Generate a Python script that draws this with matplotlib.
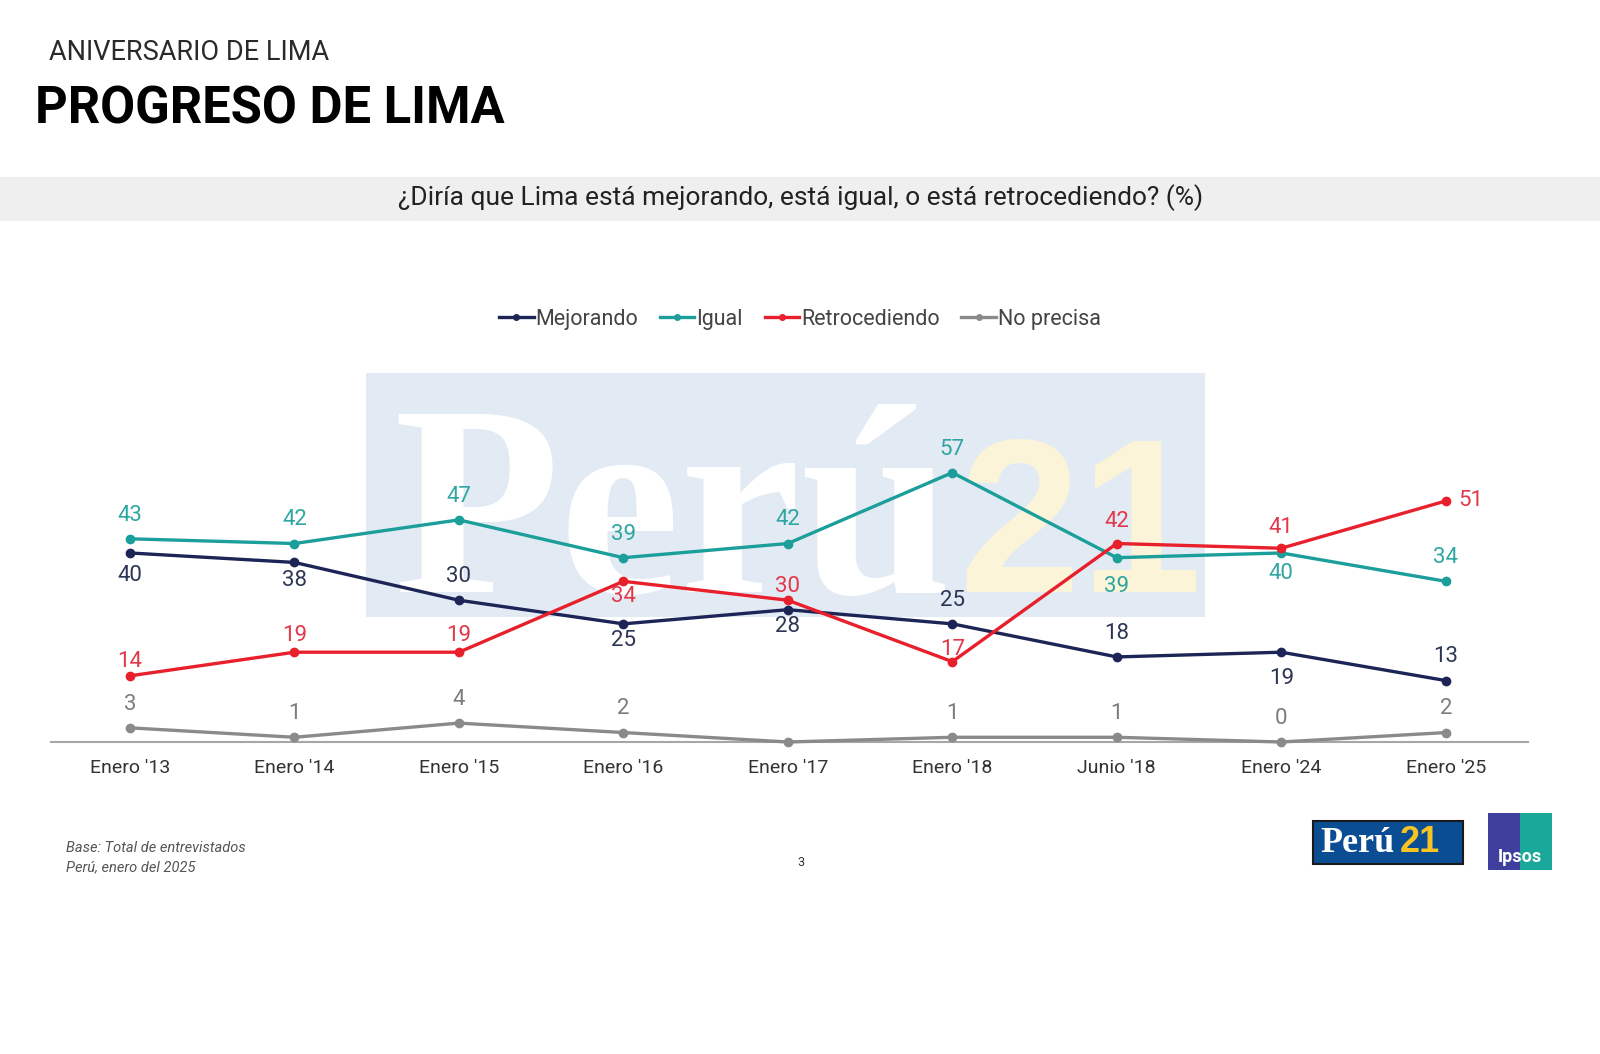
import matplotlib.pyplot as plt
from matplotlib.patches import Rectangle
from matplotlib.lines import Line2D

plt.rcParams['font.family'] = ['Roboto', 'DejaVu Sans']

periods = ["Enero '13", "Enero '14", "Enero '15", "Enero '16", "Enero '17",
           "Enero '18", "Junio '18", "Enero '24", "Enero '25"]
mejorando = [40, 38, 30, 25, 28, 25, 18, 19, 13]
igual = [43, 42, 47, 39, 42, 57, 39, 40, 34]
retrocediendo = [14, 19, 19, 34, 30, 17, 42, 41, 51]
no_precisa = [3, 1, 4, 2, 0, 1, 1, 0, 2]
no_precisa_shown = [True, True, True, True, False, True, True, True, True]

# label offsets (points), + above / - below
mej_off = [-16, -13, 17, -12, -12, 17, 17, -19, 17]
igu_off = [17, 17, 17, 17, 17, 17, -21, -15, 17]
ret_off = [10, 12, 12, -11, 10, 9, 16, 15, 0]
nop_off = [17, 17, 17, 17, 17, 17, 17, 17, 17]

c_mej, c_igu, c_ret, c_nop = '#1c2556', '#1c9f9b', '#e8202c', '#8a8a8a'
t_mej, t_igu, t_ret, t_nop = '#2c3654', '#2ea6a1', '#e2394a', '#7d7d7d'

fig = plt.figure(figsize=(16, 10.54), dpi=100)

# header
fig.text(49 / 1600, 1 - 53 / 1054, 'ANIVERSARIO DE LIMA', fontsize=19.5,
         color='#2a2a2a', va='center')
fig.text(35 / 1600, 1 - 109 / 1054, 'PROGRESO DE LIMA', fontsize=36.5,
         fontweight='bold', color='#000000', va='center')
fig.patches.append(Rectangle((0, 1 - 221 / 1054), 1, 44 / 1054, transform=fig.transFigure,
                             facecolor='#efefef', edgecolor='none', zorder=0))
fig.text(801 / 1600, 1 - 198 / 1054,
         '¿Diría que Lima está mejorando, está igual, o está retrocediendo? (%)',
         fontsize=19, color='#222222', ha='center', va='center')

# watermark (under the axes)
fig.patches.append(Rectangle((366 / 1600, 1 - 617 / 1054), 839 / 1600, 244 / 1054,
                             transform=fig.transFigure, facecolor='#e2eaf4',
                             edgecolor='none', zorder=0))
fig.text(393 / 1600, 1 - 592 / 1054, 'Perú', fontsize=196, fontweight='bold',
         family=['Liberation Serif', 'DejaVu Serif'], color='white', zorder=1)
fig.text(958 / 1600, 1 - 592 / 1054, '21', fontsize=158, fontweight='bold',
         family=['Liberation Sans', 'DejaVu Sans'], color='#fbf4d8', zorder=1)

ax = fig.add_axes([51 / 1600, 1 - 742 / 1054, 1477 / 1600, 293 / 1054])
ax.set_zorder(5)
ax.set_facecolor('none')
x = list(range(len(periods)))

series = [
    ('Mejorando', mejorando, c_mej, t_mej, mej_off),
    ('Igual', igual, c_igu, t_igu, igu_off),
    ('Retrocediendo', retrocediendo, c_ret, t_ret, ret_off),
    ('No precisa', no_precisa, c_nop, t_nop, nop_off),
]
for name, vals, col, tcol, offs in series:
    ax.plot(x, vals, color=col, lw=2.4, marker='o', ms=6, clip_on=False, zorder=3)
    for i, v in enumerate(vals):
        if name == 'No precisa' and not no_precisa_shown[i]:
            continue
        dx = 18 if (name == 'Retrocediendo' and i == len(vals) - 1) else 0
        ax.annotate(str(v), (i, v), xytext=(dx, offs[i]), textcoords='offset points',
                    ha='center', va='center', fontsize=16, color=tcol, zorder=4)

ax.set_xlim(-0.48, 8.5)
ax.set_ylim(0, 62)
ax.set_xticks(x)
ax.set_xticklabels(periods, fontsize=14, color='#333333')
ax.tick_params(axis='x', length=0, pad=12)
ax.set_yticks([])
for s in ['top', 'left', 'right']:
    ax.spines[s].set_visible(False)
ax.spines['bottom'].set_color('#a6a6a6')
ax.spines['bottom'].set_linewidth(1.5)

handles = [Line2D([0], [0], color=c, lw=2.4, marker='o', ms=4) for c in (c_mej, c_igu, c_ret, c_nop)]
fig.legend(handles, [s[0] for s in series], loc='center', bbox_to_anchor=(800 / 1600, 1 - 319 / 1054),
           ncol=4, frameon=False, fontsize=15.5, handlelength=1.6, handletextpad=0.1,
           columnspacing=1.0, labelcolor='#444444')

# footer
fig.text(66 / 1600, 1 - 848 / 1054, 'Base: Total de entrevistados', fontsize=10.5,
         style='italic', color='#555555', va='center')
fig.text(66 / 1600, 1 - 867 / 1054, 'Perú, enero del 2025', fontsize=10.5,
         style='italic', color='#555555', va='center')
fig.text(801 / 1600, 1 - 862 / 1054, '3', fontsize=9, color='#333333', ha='center', va='center')

# logos
fig.patches.append(Rectangle((1313 / 1600, 1 - 864 / 1054), 150 / 1600, 43 / 1054,
                             transform=fig.transFigure, facecolor='#0b4d93',
                             edgecolor='#1a1a1a', lw=1.5, zorder=1))
fig.text(1320 / 1600, 1 - 843 / 1054, 'Perú', fontsize=26, fontweight='bold',
         family=['Liberation Serif', 'DejaVu Serif'], color='white', va='center', zorder=2)
fig.text(1400 / 1600, 1 - 843 / 1054, '21', fontsize=26, fontweight='bold',
         family=['Liberation Sans', 'DejaVu Sans'], color='#f5c423', va='center', zorder=2)
fig.patches.append(Rectangle((1488 / 1600, 1 - 870 / 1054), 32 / 1600, 57 / 1054,
                             transform=fig.transFigure, facecolor='#3f3f9e', edgecolor='none', zorder=1))
fig.patches.append(Rectangle((1520 / 1600, 1 - 870 / 1054), 32 / 1600, 57 / 1054,
                             transform=fig.transFigure, facecolor='#1aa89a', edgecolor='none', zorder=1))
fig.text(1520 / 1600, 1 - 857 / 1054, 'Ipsos', fontsize=13, fontweight='bold',
         color='white', ha='center', va='center', zorder=2)

fig.savefig('out.png', dpi=100)
